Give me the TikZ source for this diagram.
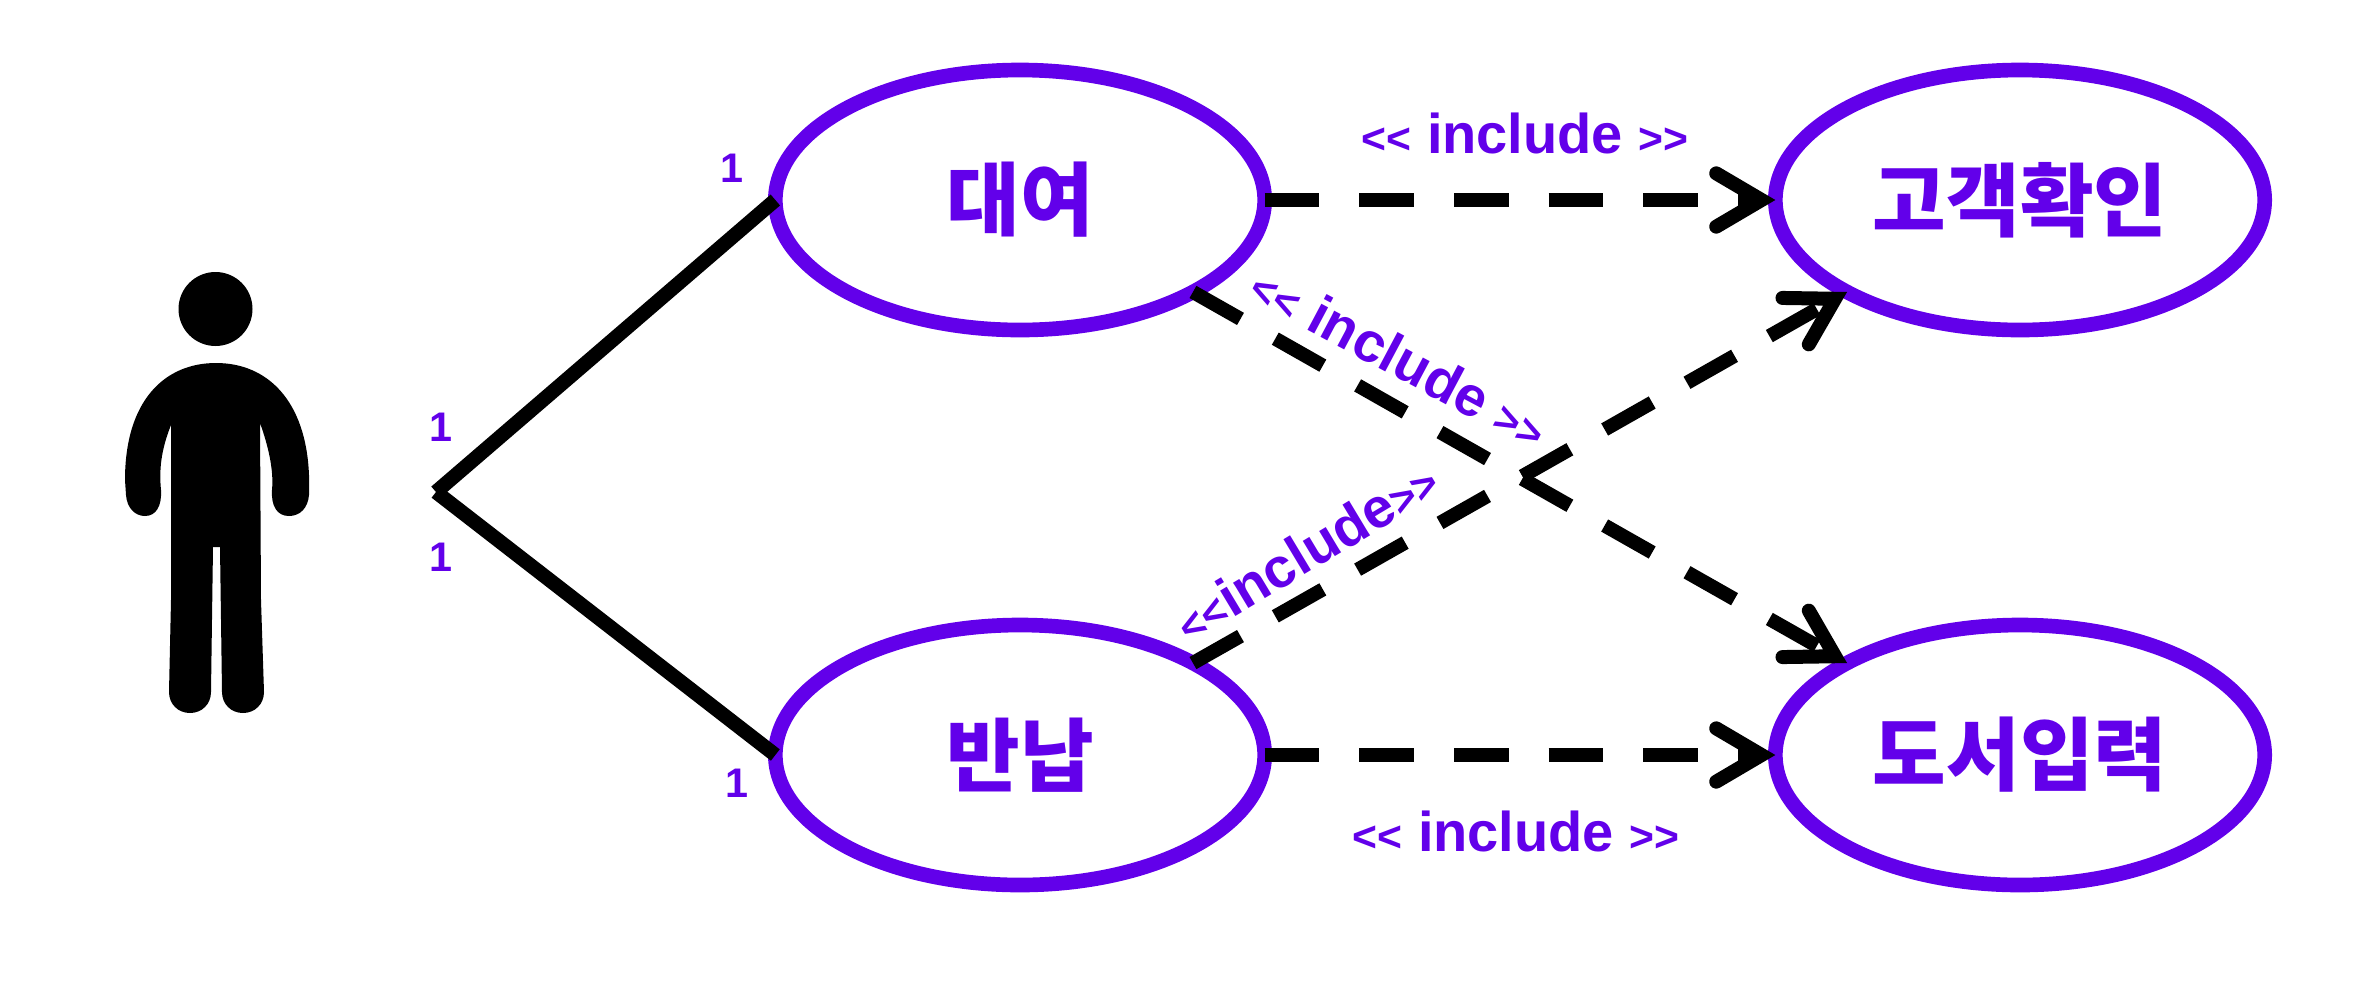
\documentclass[tikz,border=0pt]{standalone}
\usepackage{fontspec}
\usepackage{tikz}
\usetikzlibrary{shapes.geometric,arrows.meta}
\setmainfont{Liberation Sans}
\newfontfamily\cjk{Noto Sans CJK KR}
\definecolor{umlpurple}{RGB}{98,0,234}
\newcommand{\opn}{{\fontsize{32}{36}\selectfont<{}<}}
\newcommand{\cls}{{\fontsize{32}{36}\selectfont>{}>}}
\tikzset{
  usecase/.style={ellipse,draw=umlpurple,line width=11pt,minimum width=367pt,minimum height=195pt,inner sep=0pt,outer sep=0pt,text=umlpurple,font=\cjk\bfseries\fontsize{60}{62}\selectfont},
  assoc/.style={line width=10.8pt},
  incl/.style={line width=10.5pt,dash pattern=on 41pt off 30pt,-{Straight Barb[length=34pt,width=40pt,line cap=round]}},
  incltext/.style={text=umlpurple,inner sep=0pt,font=\bfseries\fontsize{42}{44}\selectfont},
  mult/.style={text=umlpurple,inner sep=0pt,font=\bfseries\fontsize{31}{32}\selectfont}
}
\begin{document}
\begin{tikzpicture}[x=0.75pt,y=0.75pt,yscale=-1,xscale=1]
\useasboundingbox (0,0) rectangle (2354,1000);
\node [usecase] (rent) at (1020,200) {대여};
\node [usecase] (ret) at (1020,755) {반납};
\node [usecase] (check) at (2020,200) {고객확인};
\node [usecase] (input) at (2020,755) {도서입력};
\fill (215.5,309) circle (37);
\fill (216,363) .. controls (165,363) and (125,400) .. (125,480) -- (126,495) .. controls (127,508) and (135,516) .. (145,516) .. controls (156,516) and (162,506) .. (161,490) .. controls (159,470) and (161,450) .. (171,425) -- (171,600) -- (169,692) .. controls (169,704) and (178,713) .. (190,713) .. controls (202,713) and (211,704) .. (211,692) -- (213,547) -- (220,547) -- (222,692) .. controls (222,704) and (231,713) .. (243,713) .. controls (255,713) and (264,704) .. (264,692) -- (261,600) -- (260,423) .. controls (268,445) and (274,470) .. (272,490) .. controls (271,506) and (277,516) .. (289,516) .. controls (300,516) and (308,508) .. (309,495) -- (309,475) .. controls (306,400) and (267,363) .. (216,363) -- cycle;
\coordinate (joint) at (436,492);
\draw [assoc] (joint) -- (rent.west);
\draw [assoc] (joint) -- (ret.west);
\draw [incl] (rent.east) -- (check.west);
\draw [incl] (ret.east) -- (input.west);
\draw [incl] (rent.-28) -- (input.152);
\draw [incl] (ret.28) -- (check.-152);
\node [mult] (m1) at (732,168) {1};
\node [mult] (m2) at (441,427) {1};
\node [mult] (m3) at (441,557) {1};
\node [mult] (m4) at (737,783) {1};
\node [incltext] (l1) at (1525,133) {\opn{} include \cls};
\node [incltext] (l2) at (1516,831) {\opn{} include \cls};
\node [incltext,rotate=-28] (l3) at (1400,357) {\opn{} include \cls};
\node [incltext,rotate=31] (l4) at (1306,551) {\opn{}include\cls};
\end{tikzpicture}
\end{document}
